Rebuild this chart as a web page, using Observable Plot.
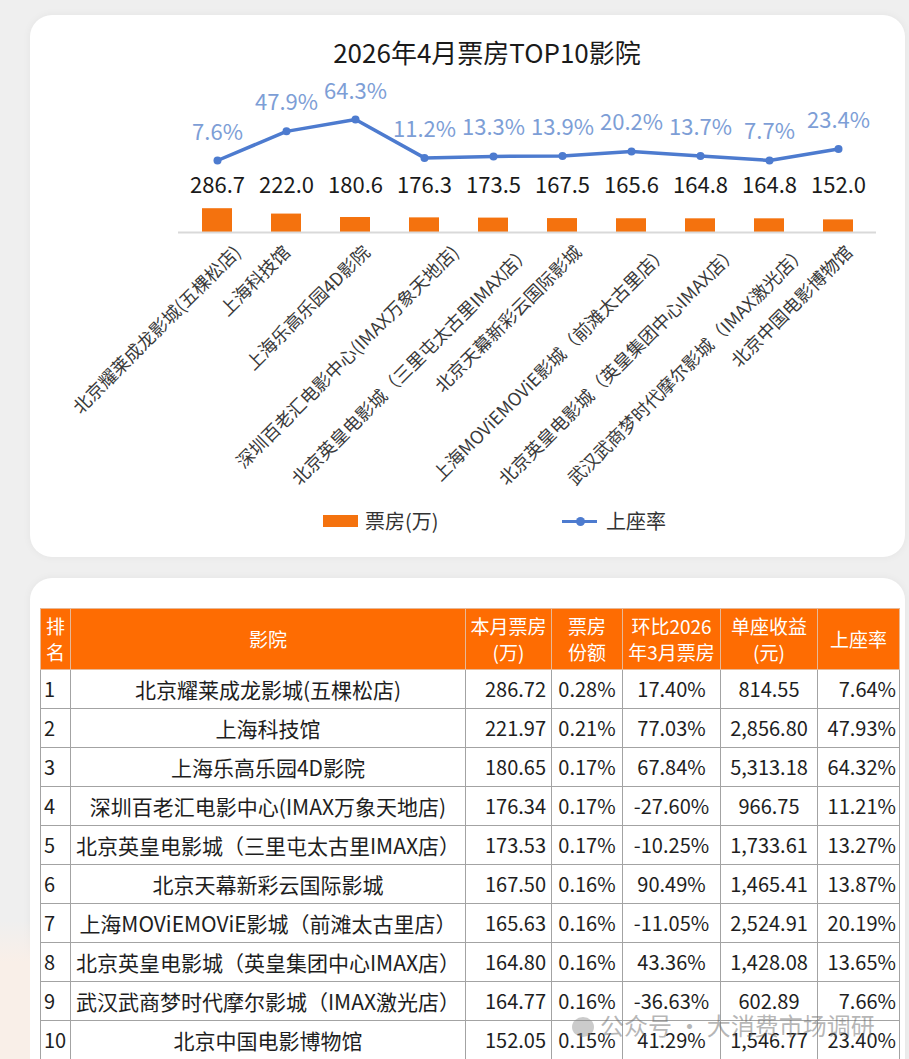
<!DOCTYPE html>
<html><head><meta charset="utf-8">
<script src="https://cdn.jsdelivr.net/npm/d3@7"></script>
<script src="https://cdn.jsdelivr.net/npm/@observablehq/plot@0.6"></script>
<style>
body{margin:0;width:909px;height:1059px;background:#efefef;font-family:"Noto Sans CJK SC","Noto Sans",sans-serif;position:relative;overflow:hidden}
.card{position:absolute;background:#fff;border-radius:22px;box-shadow:0 0 8px rgba(0,0,0,0.05)}
.abs{position:absolute}
#title{left:0;width:974px;top:33px;text-align:center;font-size:26px;color:#1a1a1a;line-height:38px}
.plot{position:absolute;left:30px;top:80px}
.leg{font-size:20px;color:#333;line-height:24px}
table{position:absolute;left:40px;top:608px;width:859px;border-collapse:collapse;table-layout:fixed;font-size:20px;color:#1e1e1e}
th{background:#fe6c02;color:#fff;font-weight:400;font-size:19px;line-height:26px;border:1px solid #e7b896;height:60px;padding:0}
td{border:1px solid #a3a3a3;height:38px;padding:0 2px;text-align:center;white-space:nowrap;overflow:visible;line-height:24px}
td.nm{font-size:21px}
td.rk{text-align:left;padding-left:3px}
td.rt{text-align:right;padding-right:3px}
td.rb{text-align:right;padding-right:5px}
#wm{left:572px;top:1008px;font-size:24px;color:rgba(110,110,110,0.5);line-height:34px}
</style></head><body>
<div class="card" style="left:30px;top:15px;width:875px;height:542px"></div>
<div class="card" style="left:30px;top:578px;width:875px;height:520px"></div>
<div class="abs" style="left:0;top:920px;width:30px;height:139px;background:linear-gradient(180deg,rgba(249,240,233,0),#f9efe8 30%,#f9efe8)"></div>
<div id="title" class="abs">2026年4月票房TOP10影院</div>
<div id="p1" class="plot"></div>
<div id="p2" class="plot"></div>
<div class="abs" style="left:323px;top:515px;width:35px;height:12px;background:#f4720e"></div>
<div class="abs leg" style="left:365px;top:509px">票房(万)</div>
<div class="abs" style="left:562px;top:520px;width:35px;height:3px;background:#4d7bcf"></div>
<div class="abs" style="left:576px;top:517px;width:9px;height:9px;border-radius:50%;background:#4d7bcf"></div>
<div class="abs leg" style="left:606px;top:509px">上座率</div>
<table id="tbl"></table>
<div id="wm" class="abs"><span style="display:inline-block;width:22px;height:20px;border-radius:50%;background:rgba(140,140,140,0.45);vertical-align:-2px;margin-right:6px"></span>公众号 · 大消费市场调研</div>
<script>
// ---- data ----
const cinemas = ["北京耀莱成龙影城(五棵松店)","上海科技馆","上海乐高乐园4D影院","深圳百老汇电影中心(IMAX万象天地店)","北京英皇电影城（三里屯太古里IMAX店）","北京天幕新彩云国际影城","上海MOViEMOViE影城（前滩太古里店）","北京英皇电影城（英皇集团中心IMAX店）","武汉武商梦时代摩尔影城（IMAX激光店）","北京中国电影博物馆"];
const boxChart = [286.7,222.0,180.6,176.3,173.5,167.5,165.6,164.8,164.8,152.0];
const rateChart = [7.6,47.9,64.3,11.2,13.3,13.9,20.2,13.7,7.7,23.4];
const ranks = [1,2,3,4,5,6,7,8,9,10];
const boxMonth = [286.72,221.97,180.65,176.34,173.53,167.50,165.63,164.80,164.77,152.05];
const shareVals = [0.28,0.21,0.17,0.17,0.17,0.16,0.16,0.16,0.16,0.15];
const momVals = [17.40,77.03,67.84,-27.60,-10.25,90.49,-11.05,43.36,-36.63,41.29];
const perSeat = [814.55,2856.80,5313.18,966.75,1733.61,1465.41,2524.91,1428.08,602.89,1546.77];
const rateVals = [7.64,47.93,64.32,11.21,13.27,13.87,20.19,13.65,7.66,23.40];
const headers = ["排<br>名","影院","本月票房<br>(万)","票房<br>份额","环比2026<br>年3月票房","单座收益<br>(元)","上座率"];
const colWidths = [30,395,86,71,98,97,82];

const data = cinemas.map((name,i)=>({name, box: boxChart[i], rate: rateChart[i]}));
const font = '"Noto Sans CJK SC","Noto Sans",sans-serif';
const W = 875, H = 400;
const xOpts = {type:"band", domain: cinemas, paddingInner:0.57, paddingOuter:0.285, axis:null};

// rotated category labels
const fs = 18;
const ctx = document.createElement("canvas").getContext("2d");
ctx.font = `${fs}px ${font}`;
const tickMarks = cinemas.map(c => {
  const L = ctx.measureText(c).width;
  const Wb = (L + fs) * Math.SQRT1_2;
  const right = 0.2 * Wb - 8;
  return Plot.text([c], {x: d=>d, text: d=>d, frameAnchor:"bottom", rotate:-45, textAnchor:"end", lineAnchor:"middle", dx: right - fs*0.3536, dy: 17, fontSize: fs, fill:"#3a3a3a"});
});

const p1 = Plot.plot({
  width: W, height: H, marginLeft:148, marginRight:29, marginTop:69, marginBottom:248,
  style:{fontFamily:font, overflow:"visible", background:"transparent"},
  x: xOpts,
  y: {domain:[0,1000], axis:null},
  marks: [
    Plot.barY(data, {x:"name", y:"box", fill:"#f4720e"}),
    Plot.ruleY([0], {stroke:"#d9d9d9", strokeWidth:2}),
    Plot.text(data, {x:"name", text: d=>d.box.toFixed(1), frameAnchor:"bottom", dy:-40, fontSize:22, fill:"#1a1a1a"}),
    ...tickMarks
  ]
});
document.getElementById("p1").append(p1);

const p2 = Plot.plot({
  width: W, height: H, marginLeft:148, marginRight:29, marginTop:0, marginBottom:0,
  style:{fontFamily:font, overflow:"visible", background:"transparent"},
  x: xOpts,
  y: {domain:[0,100], range:[85.5,13.2], axis:null},
  marks: [
    Plot.line(data, {x:"name", y:"rate", stroke:"#4d7bcf", strokeWidth:3.5}),
    Plot.dot(data, {x:"name", y:"rate", r:4, fill:"#4d7bcf"}),
    Plot.text(data, {x:"name", y:"rate", text: d=>d.rate.toFixed(1)+"%", dy:-28, fontSize:22, fill:"#7d9ed6"})
  ]
});
document.getElementById("p2").append(p2);

// ---- table ----
const fmt2 = d3.format(",.2f");
const pct = v => (v<0?"-":"") + Math.abs(v).toFixed(2) + "%";
const tbl = document.getElementById("tbl");
let html = "<colgroup>" + colWidths.map(w=>`<col style="width:${w}px">`).join("") + "</colgroup>";
html += "<tr>" + headers.map(h=>`<th>${h}</th>`).join("") + "</tr>";
cinemas.forEach((c,i)=>{
  html += `<tr><td class="rk">${ranks[i]}</td><td class="nm">${c}</td><td class="rb">${boxMonth[i].toFixed(2)}</td><td>${shareVals[i].toFixed(2)}%</td><td>${pct(momVals[i])}</td><td>${fmt2(perSeat[i])}</td><td class="rt">${rateVals[i].toFixed(2)}%</td></tr>`;
});
tbl.innerHTML = html;
</script>
</body></html>
